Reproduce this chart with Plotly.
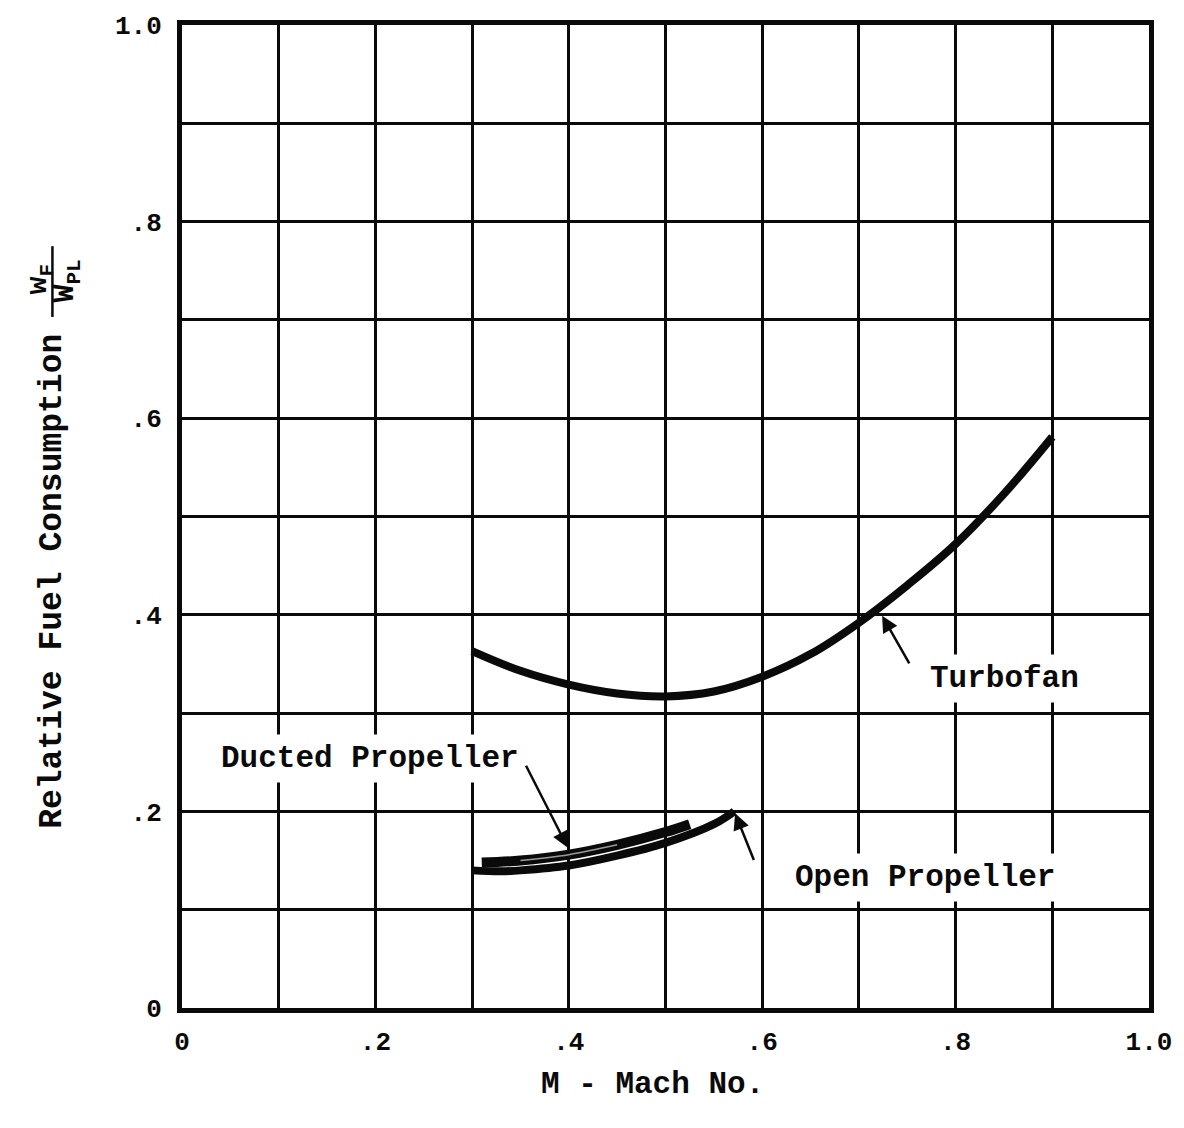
import plotly.graph_objects as go

# ---- data ----
turbofan_x = [0.30, 0.35, 0.40, 0.45, 0.50, 0.55, 0.60, 0.65, 0.70, 0.75, 0.80, 0.85, 0.90]
turbofan_y = [0.363, 0.343, 0.329, 0.320, 0.317, 0.322, 0.337, 0.360, 0.392, 0.430, 0.472, 0.523, 0.581]

open_x = [0.30, 0.33, 0.35, 0.40, 0.45, 0.50, 0.55, 0.571]
open_y = [0.140, 0.139, 0.140, 0.145, 0.155, 0.168, 0.187, 0.200]

ducted_x = [0.31, 0.35, 0.40, 0.45, 0.50, 0.525]
ducted_y = [0.148, 0.150, 0.156, 0.166, 0.179, 0.187]

tick_vals = [0, 0.1, 0.2, 0.3, 0.4, 0.5, 0.6, 0.7, 0.8, 0.9, 1.0]
tick_text = ["0", "", ".2", "", ".4", "", ".6", "", ".8", "", "1.0"]

FONT = "Liberation Mono"
INK = "#0a0a0a"

fig = go.Figure()
fig.add_trace(go.Scatter(x=turbofan_x, y=turbofan_y, mode="lines",
                         line=dict(color=INK, width=8, shape="spline", smoothing=1.1), showlegend=False))
fig.add_trace(go.Scatter(x=open_x, y=open_y, mode="lines",
                         line=dict(color=INK, width=8, shape="spline"), showlegend=False))
fig.add_trace(go.Scatter(x=ducted_x, y=ducted_y, mode="lines",
                         line=dict(color=INK, width=10, shape="spline"), showlegend=False))
fig.add_trace(go.Scatter(x=ducted_x[1:4], y=ducted_y[1:4], mode="lines",
                         line=dict(color="#9a9a9a", width=1.5, shape="spline"), showlegend=False))

axis_common = dict(
    range=[0, 1.0], tickvals=tick_vals, ticktext=tick_text,
    showgrid=True, gridcolor=INK, gridwidth=2.5,
    zeroline=False, showline=True, linecolor=INK, linewidth=5, mirror=True,
    ticks="", tickfont=dict(family=FONT, size=26, color=INK, weight="bold"),
    ticklabeloverflow="allow",
)

fig.update_xaxes(**axis_common, ticklabelstandoff=6)
fig.update_yaxes(**axis_common, ticklabelstandoff=10)

annotations = []
def label(text, x, y):
    annotations.append(dict(x=x, y=y, xref="x", yref="y", text=text, showarrow=False,
                            font=dict(family=FONT, size=31, color=INK, weight="bold"),
                            bgcolor="white", borderpad=6))

def arrow(x, y, ax, ay):
    annotations.append(dict(x=x, y=y, ax=ax, ay=ay, xref="x", yref="y", axref="x", ayref="y",
                            text="", showarrow=True, arrowhead=2, arrowsize=1.3,
                            arrowwidth=2.5, arrowcolor=INK))

label("Turbofan", 0.851, 0.335)
label("Ducted Propeller", 0.194, 0.254)
label("Open Propeller", 0.768, 0.133)
arrow(0.724, 0.399, 0.753, 0.349)
arrow(0.399, 0.163, 0.355, 0.248)
arrow(0.572, 0.198, 0.592, 0.149)

# axis titles
annotations.append(dict(x=0.487, y=-0.078, xref="paper", yref="paper", text="M - Mach No.",
                        showarrow=False, font=dict(family=FONT, size=31, color=INK, weight="bold"),
                        xanchor="center", yanchor="middle"))
annotations.append(dict(x=-0.134, y=0.434, xref="paper", yref="paper",
                        text="Relative Fuel Consumption", textangle=-90, showarrow=False,
                        font=dict(family=FONT, size=33, color=INK, weight="bold"),
                        xanchor="center", yanchor="middle"))
annotations.append(dict(x=-0.147, y=0.742, xref="paper", yref="paper",
                        text="w<sub>F</sub>", textangle=-90, showarrow=False,
                        font=dict(family=FONT, size=30, color=INK, weight="bold"),
                        xanchor="center", yanchor="middle"))
annotations.append(dict(x=-0.119, y=0.740, xref="paper", yref="paper",
                        text="W<sub>PL</sub>", textangle=-90, showarrow=False,
                        font=dict(family=FONT, size=30, color=INK, weight="bold"),
                        xanchor="center", yanchor="middle"))

fig.update_layout(
    width=1184, height=1128,
    margin=dict(l=182, r=31, t=16, b=120),
    paper_bgcolor="white", plot_bgcolor="white",
    annotations=annotations,
    shapes=[dict(type="line", xref="paper", yref="paper",
                 x0=-0.134, x1=-0.134, y0=0.703, y1=0.775,
                 line=dict(color=INK, width=2.5))],
)

# remove the browser's default 8px body margin so the figure sits at the window origin
fig.write_html("out.html", config={"displayModeBar": False},
               post_script="document.body.style.margin='0';document.body.style.overflow='hidden';")
